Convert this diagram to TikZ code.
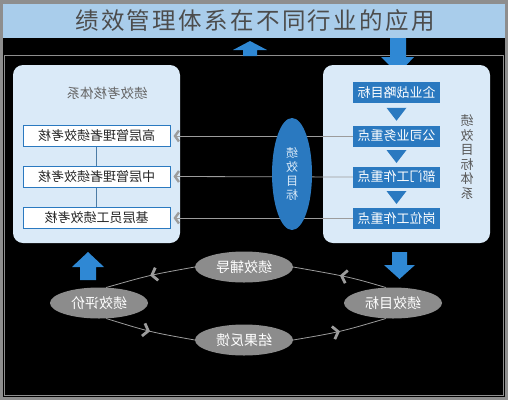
\documentclass[tikz,border=0pt]{standalone}
\usepackage{fontspec}
\usepackage{graphicx}
\newfontfamily\cjk{Noto Sans CJK SC}
\usetikzlibrary{arrows.meta,shapes.geometric,positioning,calc,decorations.markings}

\definecolor{titleblue}{HTML}{A9CDEB}
\definecolor{panelblue}{HTML}{DAEAF8}
\definecolor{boxblue}{HTML}{2A79C0}
\definecolor{arrowblue}{HTML}{2F88D4}
\definecolor{cyclegray}{HTML}{8C8C8C}
\definecolor{linegray}{HTML}{9C9C9C}
\definecolor{framegray}{HTML}{8E8E8E}

% mirrored text, as in the picture
\newcommand{\mir}[1]{\reflectbox{#1}}

\begin{document}
\begin{tikzpicture}
  [x=1pt,y=-1pt,font=\cjk,
   panel/.style={fill=panelblue,rounded corners=10pt},
   lbox/.style={draw=boxblue,line width=1pt,fill=white,minimum width=147pt,
     minimum height=21pt,inner sep=0pt,text=black!85,font=\cjk\fontsize{13}{13}\selectfont},
   rbox/.style={fill=boxblue,minimum width=87pt,minimum height=21pt,inner sep=0pt,
     text=white,font=\cjk\fontsize{13}{13}\selectfont},
   cyc/.style={ellipse,fill=cyclegray,minimum width=98pt,minimum height=31pt,
     inner sep=0pt,text=white,font=\cjk\fontsize{14}{14}\selectfont},
   link/.style={draw=linegray,line width=0.8pt},
   chev/.style={-{Straight Barb[length=4pt,width=11pt,line width=2.4pt]},linegray},
   midchev/.style={link,postaction={decorate},decoration={markings,
     mark=at position 0.5 with {\arrow[line width=2.8pt]{Straight Barb[length=5pt,width=13pt]}}}},
   block/.style={fill=arrowblue}]

  \useasboundingbox (0,0) rectangle (508,400);
  % background
  \fill[framegray] (0,0) rectangle (508,400);
  \fill[titleblue] (3,4) rectangle (505,38);
  \fill[black] (3,38) rectangle (505,397);
  \draw[framegray,line width=1pt] (4.5,55) rectangle (503,395);

  \node (title) at (255,21) {\fontsize{23.5}{24}\selectfont\addfontfeatures{LetterSpace=10}\color{black!70}绩效管理体系在不同行业的应用};

  % top block arrows
  \fill[block] (243,56) -- (243,50) -- (233,50) -- (250,41) -- (267,50) -- (257,50) -- (257,56) -- cycle;
  \fill[block] (390,38) -- (406,38) -- (406,57) -- (414,57) -- (398,74) -- (381,57) -- (390,57) -- cycle;

  % panels
  \fill[panel] (13,65) rectangle (180,243);
  \fill[panel] (323,65) rectangle (490,243);

  \node[text=black!60,font=\cjk\fontsize{13.5}{13.5}\selectfont] (ltitle) at (107,93) {\mir{绩效考核体系}};

  \node[lbox] (high) at (96.5,136) {\mir{高层管理者绩效考核}};
  \node[lbox] (mid)  at (96.5,176.5) {\mir{中层管理者绩效考核}};
  \node[lbox] (base) at (96.5,218) {\mir{基层员工绩效考核}};

  \node[rbox] (goal) at (396.5,92.5)  {\mir{企业战略目标}};
  \node[rbox] (biz)  at (396.5,136)   {\mir{公司业务重点}};
  \node[rbox] (dept) at (396.5,177)   {\mir{部门工作重点}};
  \node[rbox] (post) at (396.5,218)   {\mir{岗位工作重点}};

  \node[align=center,text=black!65,font=\cjk\fontsize{13}{14.5}\selectfont] (rtitle) at (467,157)
    {\mir{绩}\\\mir{效}\\\mir{目}\\\mir{标}\\\mir{体}\\\mir{系}};

  \foreach \from/\to in {high/mid,mid/base}
    \draw[boxblue!60!gray,line width=0.7pt] (\from) -- (\to);

  \foreach \a/\b in {goal/biz,biz/dept,dept/post}
    \fill[boxblue] ($(\a.south)!0.5!(\b.north)$) ++(-10,-6.5) -- ++(20,0) -- ++(-10,13) -- cycle;

  \foreach \from/\to in {biz/high,dept/mid,post/base}
    \draw[link,chev] (\from.west) -- ([xshift=3pt]\to.east);

  \node[ellipse,fill=boxblue,minimum width=40pt,minimum height=112pt,inner sep=0pt,
    align=center,text=panelblue,font=\cjk\fontsize{12}{14}\selectfont] (focus) at (292,174)
    {\mir{绩}\\\mir{效}\\\mir{目}\\\mir{标}};

  % bottom block arrows
  \fill[block] (80,280) -- (80,267) -- (72,267) -- (88,252) -- (104,267) -- (96,267) -- (96,280) -- cycle;
  \fill[block] (392,252) -- (407,252) -- (407,265) -- (415,265) -- (399.5,279) -- (384,265) -- (392,265) -- cycle;

  % cycle
  \node[cyc] (guide) at (244,267) {\mir{绩效辅导}};
  \node[cyc] (eval)  at (99,303)  {\mir{绩效评价}};
  \node[cyc] (aim)   at (393,303) {\mir{绩效目标}};
  \node[cyc] (back)  at (244,340) {\mir{结果反馈}};

  \draw[midchev] (aim.115) .. controls (350,277) .. (guide.east);
  \draw[midchev] (guide.west) .. controls (150,275) .. (eval.65);
  \draw[midchev] (eval.-65) .. controls (150,332) .. (back.west);
  \draw[midchev] (back.east) .. controls (340,332) .. (aim.-115);

\end{tikzpicture}
\end{document}
